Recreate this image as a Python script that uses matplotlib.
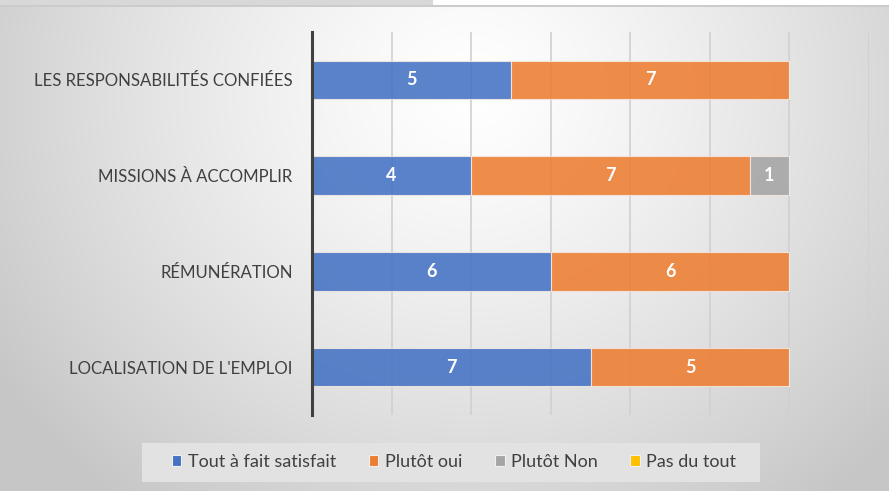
import numpy as np
import matplotlib
matplotlib.use("Agg")
import matplotlib.pyplot as plt
from matplotlib.patches import Rectangle

categories = ["LOCALISATION DE L'EMPLOI", "RÉMUNÉRATION", "MISSIONS À ACCOMPLIR",
              "LES RESPONSABILITÉS CONFIÉES"]
series_names = ["Tout à fait satisfait", "Plutôt oui", "Plutôt Non", "Pas du tout"]
tout_a_fait = [7, 6, 4, 5]
plutot_oui = [5, 6, 7, 7]
plutot_non = [0, 0, 1, 0]
pas_du_tout = [0, 0, 0, 0]
colors = ["#4472C4", "#ED7D31", "#A5A5A5", "#FFC000"]

plt.rcParams["font.family"] = ["Lato", "DejaVu Sans"]

fig = plt.figure(figsize=(8.89, 4.91), dpi=100)
W, H = 889, 491

# radial gradient background of the chart area
bg = fig.add_axes([0, 0, 1, 1], zorder=-10)
yy, xx = np.mgrid[0:H, 0:W]
r = np.sqrt(((xx - 470) / 560.0) ** 2 + ((yy - 90) / 520.0) ** 2)
val = 1.0 - 0.22 * np.clip(r, 0, 1) ** 1.3
img = np.dstack([val, val, val])
img[:6, :, :] = 1.0
img[:5, :433, :] = 0.85
img[5:7, :, :] = 0.80
bg.imshow(img, aspect="auto", extent=[0, 1, 0, 1], origin="upper")
bg.axis("off")

ax = fig.add_axes([312 / W, 1 - 415 / H, (869 - 312) / W, (415 - 32) / H])
ax.patch.set_alpha(0)

y = np.arange(len(categories))
left = np.zeros(len(categories))
for name, vals, col in zip(series_names, [tout_a_fait, plutot_oui, plutot_non, pas_du_tout], colors):
    vals = np.array(vals, dtype=float)
    bars = ax.barh(y, vals, left=left, height=0.4, color=col, alpha=0.88,
                   edgecolor="#f4e8e0", linewidth=0.8, label=name, zorder=3)
    for b, v in zip(bars, vals):
        if v > 0:
            ax.text(b.get_x() + b.get_width() / 2, b.get_y() + b.get_height() / 2,
                    f"{int(v)}", ha="center", va="center", color="white",
                    fontsize=13, fontweight="bold", zorder=4)
    left += vals

ax.set_xlim(0, 14)
ax.set_ylim(-0.5, 3.5)
ax.set_xticks(range(0, 15, 2))
ax.set_xticklabels([])
ax.set_yticks(y)
ax.set_yticklabels(categories, fontsize=12.1, color="#404040")
ax.tick_params(axis="both", length=0, pad=14)
ax.grid(axis="x", color="#d0d0d0", linewidth=1.2, zorder=0)
for s in ["top", "right", "bottom"]:
    ax.spines[s].set_visible(False)
ax.spines["left"].set_color("#404040")
ax.spines["left"].set_linewidth(2.2)
ax.spines["left"].set_zorder(5)

# legend box
fig.patches.append(Rectangle((142 / W, 1 - 482 / H), (760 - 142) / W, 39 / H,
                             transform=fig.transFigure, facecolor="#e2e2e2",
                             edgecolor="none", zorder=1))
leg = fig.legend(loc="center", bbox_to_anchor=(454 / W, 1 - 462 / H), ncol=4,
                 frameon=False, fontsize=13, handlelength=0.55, handleheight=0.55,
                 handletextpad=0.35, columnspacing=1.8)
leg.set_zorder(2)
for t in leg.get_texts():
    t.set_color("#404040")
for hnd in leg.legend_handles:
    hnd.set_alpha(1)
    hnd.set_edgecolor("#f0f0f0")

fig.savefig("out.png", dpi=100)
